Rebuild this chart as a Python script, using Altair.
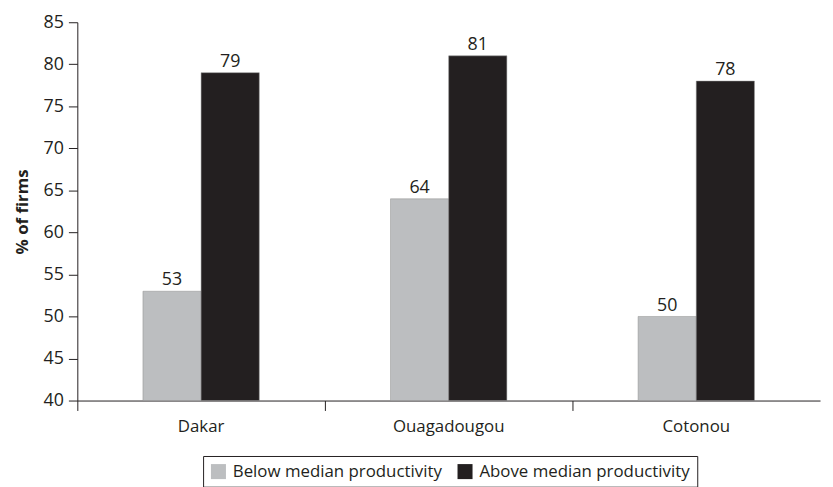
import altair as alt
import pandas as pd

cities = ["Dakar", "Ouagadougou", "Cotonou"]
below = [53, 64, 50]
above = [79, 81, 78]
series = ["Below median productivity", "Above median productivity"]
colors = ["#bcbec0", "#231f20"]

rows = []
for c, b, a in zip(cities, below, above):
    rows.append({"city": c, "series": series[0], "value": b, "base": 40})
    rows.append({"city": c, "series": series[1], "value": a, "base": 40})
df = pd.DataFrame(rows)

FONT = "Open Sans"
offset_domain = ["_pad_l", series[0], series[1], "_pad_r"]

x = alt.X("city:N", sort=cities, title=None,
          scale=alt.Scale(paddingInner=0, paddingOuter=0),
          axis=alt.Axis(labelAngle=0, labelFontSize=17, labelColor="#231f20",
                        labelPadding=8, tickSize=10, tickColor="#231f20",
                        domainColor="#231f20", bandPosition=0, labelFont=FONT))
xo = alt.XOffset("series:N",
                 scale=alt.Scale(domain=offset_domain, paddingInner=0, paddingOuter=0.128))
y = alt.Y("value:Q", title="% of firms",
          scale=alt.Scale(domain=[40, 85], zero=False, nice=False),
          axis=alt.Axis(values=list(range(40, 86, 5)), grid=False,
                        labelFontSize=18, labelColor="#231f20", labelPadding=5,
                        tickSize=9, tickColor="#231f20", domainColor="#231f20",
                        titleFontSize=17, titleFontWeight="bold", titleColor="#231f20",
                        titlePadding=12, labelFont=FONT, titleFont=FONT))

bars = alt.Chart(df).mark_bar(stroke="#8f8f8f", strokeWidth=0.5).encode(
    x=x, xOffset=xo, y=y, y2="base:Q",
    color=alt.Color("series:N", sort=series,
                    scale=alt.Scale(domain=series, range=colors),
                    legend=alt.Legend(title=None, orient="none", direction="horizontal",
                                      legendX=127, legendY=438,
                                      strokeColor="#231f20", padding=7,
                                      symbolType="square", symbolSize=230,
                                      symbolStrokeWidth=0, labelLimit=0,
                                      labelFontSize=17, labelColor="#231f20",
                                      labelFont=FONT, columnPadding=14,
                                      labelOffset=6)),
)

labels = alt.Chart(df).mark_text(dy=-11, fontSize=18, color="#231f20", font=FONT).encode(
    x=alt.X("city:N", sort=cities), xOffset=alt.XOffset("series:N"),
    y="value:Q", text="value:Q",
)

chart = (bars + labels).properties(
    width=750, height=382,
    padding={"top": 3, "left": 5, "right": 5, "bottom": 5},
).configure_view(stroke=None)

chart.save("out.html", embed_options={"renderer": "svg", "actions": False})
